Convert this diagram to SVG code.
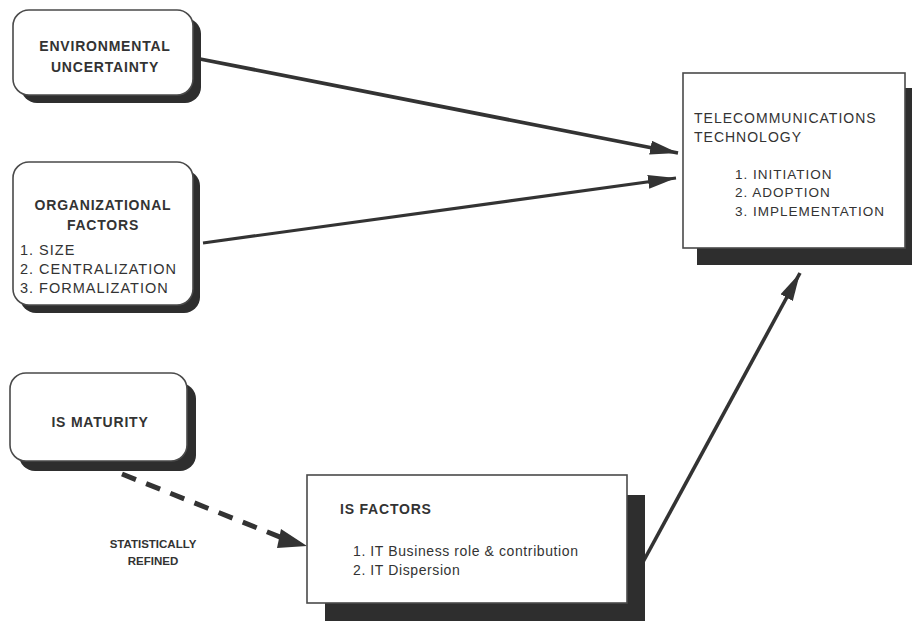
<svg xmlns="http://www.w3.org/2000/svg" width="912" height="621" viewBox="0 0 912 621">
<style>
.box{fill:#fff;stroke:#4a4a4a;stroke-width:1.6}
.shadow{fill:#2e2e2e}
.t{font-family:"Liberation Sans",Arial,sans-serif;fill:#333}
.b{font-weight:bold;font-size:14px;letter-spacing:0.8px}
.r{font-size:14px;letter-spacing:1px}
.li{font-size:13.5px;letter-spacing:1px}
.conn{stroke:#333;fill:none;stroke-width:3.2}
.dash{stroke:#333;fill:none;stroke-width:5;stroke-dasharray:15 11}
</style>
<defs>
<marker id="ah" markerUnits="userSpaceOnUse" markerWidth="30" markerHeight="16" refX="28" refY="7" orient="auto">
<path d="M0,0 L28,7 L0,14 Z" fill="#333"/>
</marker>
</defs>
<rect x="0" y="0" width="912" height="621" fill="#fff"/>

<g id="connectors">
<line class="conn" x1="200" y1="59" x2="678" y2="153" marker-end="url(#ah)" style="stroke-width:3.8"/>
<line class="conn" x1="203" y1="243" x2="676" y2="178" marker-end="url(#ah)"/>
<line class="conn" x1="643" y1="562" x2="800" y2="273" marker-end="url(#ah)" style="stroke-width:3.6"/>
<line class="dash" x1="122" y1="474" x2="285" y2="539"/>
<path d="M281,529 L307,546 L277,548 Z" fill="#333"/>
</g>

<g id="env">
<rect class="shadow" x="21" y="18" width="180" height="85" rx="16"/>
<rect class="box" x="13" y="10" width="180" height="85" rx="16"/>
<text class="t b" x="105" y="51" text-anchor="middle">ENVIRONMENTAL</text>
<text class="t b" x="105" y="72" text-anchor="middle">UNCERTAINTY</text>
</g>

<g id="org">
<rect class="shadow" x="20" y="170" width="180" height="143" rx="16"/>
<rect class="box" x="13" y="162" width="180" height="143" rx="16"/>
<text class="t b" x="103" y="210" text-anchor="middle">ORGANIZATIONAL</text>
<text class="t b" x="103" y="230" text-anchor="middle">FACTORS</text>
<text class="t" x="20" y="255" style="font-size:14.5px;letter-spacing:1px">1. SIZE</text>
<text class="t" x="20" y="274" style="font-size:14.5px;letter-spacing:1px">2. CENTRALIZATION</text>
<text class="t" x="20" y="293" style="font-size:14.5px;letter-spacing:1px">3. FORMALIZATION</text>
</g>

<g id="ismat">
<rect class="shadow" x="19" y="383" width="177" height="88" rx="16"/>
<rect class="box" x="10" y="373" width="177" height="88" rx="16"/>
<text class="t b" x="100" y="427" text-anchor="middle">IS MATURITY</text>
</g>

<g id="telecom">
<rect class="shadow" x="697" y="88" width="222" height="177"/>
<rect class="box" x="683" y="73" width="222" height="175"/>
<text class="t r" x="694" y="123">TELECOMMUNICATIONS</text>
<text class="t r" x="694" y="142">TECHNOLOGY</text>
<text class="t li" x="735" y="179">1. INITIATION</text>
<text class="t li" x="735" y="197">2. ADOPTION</text>
<text class="t li" x="735" y="216">3. IMPLEMENTATION</text>
</g>

<g id="isfactors">
<rect class="shadow" x="325" y="495" width="320" height="140"/>
<rect class="box" x="307" y="475" width="320" height="128"/>
<text class="t b" x="340" y="514">IS FACTORS</text>
<text class="t" x="353" y="556" style="font-size:14px;letter-spacing:0.6px">1. IT Business role &amp; contribution</text>
<text class="t" x="353" y="575" style="font-size:14px;letter-spacing:0.6px">2. IT Dispersion</text>
</g>

<g id="label">
<text class="t" x="153" y="548" text-anchor="middle" style="font-weight:bold;font-size:11.5px">STATISTICALLY</text>
<text class="t" x="153" y="565" text-anchor="middle" style="font-weight:bold;font-size:11.5px">REFINED</text>
</g>
</svg>
